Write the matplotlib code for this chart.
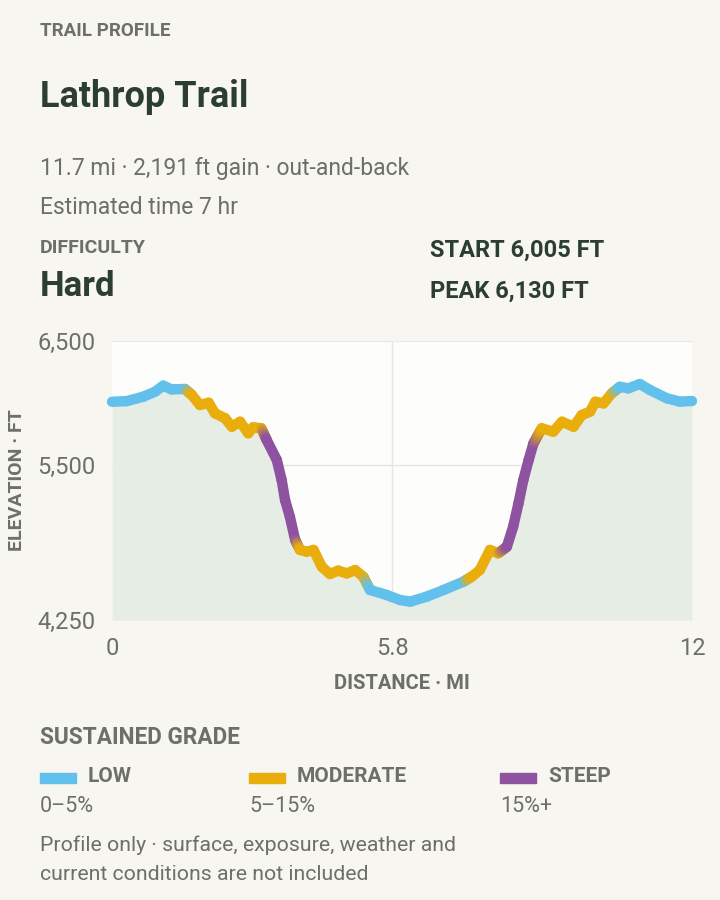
import numpy as np
import matplotlib
matplotlib.use("Agg")
import matplotlib.pyplot as plt
from matplotlib.collections import LineCollection
from matplotlib.colors import to_rgb

plt.rcParams["font.family"] = ["Roboto", "DejaVu Sans"]

# profile (miles, feet, grade class)
distance = [0.00, 0.30, 0.65, 0.89, 1.06, 1.23, 1.51, 1.65, 1.82, 2.00, 2.13, 2.34,
            2.48, 2.65, 2.82, 2.92, 3.09, 3.20, 3.41, 3.51, 3.58, 3.68, 3.79, 3.89,
            4.03, 4.17, 4.34, 4.51, 4.68, 4.86, 5.03, 5.20, 5.34, 5.68, 5.96, 6.17,
            6.51, 6.86, 7.27, 7.44, 7.61, 7.82, 7.99, 8.17, 8.30, 8.41, 8.51, 8.62,
            8.72, 8.89, 9.13, 9.31, 9.55, 9.72, 9.89, 10.00, 10.17, 10.34, 10.51,
            10.68, 10.92, 11.13, 11.48, 11.75, 12.00]
elevation = [6010, 6015, 6051, 6091, 6140, 6110, 6113, 6065, 5984, 6002, 5917, 5877,
             5809, 5849, 5756, 5804, 5796, 5702, 5540, 5379, 5218, 5083, 4895, 4815,
             4801, 4815, 4680, 4621, 4648, 4626, 4653, 4599, 4492, 4452, 4411, 4398,
             4438, 4492, 4559, 4599, 4653, 4815, 4788, 4841, 5003, 5191, 5379, 5540,
             5675, 5796, 5769, 5849, 5809, 5903, 5930, 6010, 5997, 6078, 6131,
             6118, 6153, 6105, 6038, 6011, 6016]
grade = ["low"] * 7 + ["mod"] * 10 + ["steep"] * 6 + ["mod"] * 9 + ["low"] * 7 + \
        ["mod"] * 4 + ["steep"] * 6 + ["mod"] * 9 + ["low"] * 7

grade_colors = {"low": "#62C1EC", "mod": "#E9AE0C", "steep": "#8E52A0"}
legend_keys = ["low", "mod", "steep"]
legend_names = ["LOW", "MODERATE", "STEEP"]
legend_ranges = ["0–5%", "5–15%", "15%+"]

y_ticks = [4250, 5500, 6500]
x_ticks = [0, 5.8, 12]
x_tick_labels = ["0", "5.8", "12"]

BG = "#F7F6F1"
DARK = "#2C3E33"
GRAY = "#6C7068"

fig = plt.figure(figsize=(7.2, 9), dpi=100, facecolor=BG)

# header text
fig.text(40/720, 1 - 31/900, "TRAIL PROFILE", fontsize=13.5, fontweight="bold", color=GRAY, va="center")
fig.text(40/720, 1 - 97/900, "Lathrop Trail", fontsize=26, fontweight="bold", color=DARK, va="center")
fig.text(40/720, 1 - 169/900, "11.7 mi · 2,191 ft gain · out-and-back", fontsize=16.5, color=GRAY, va="center")
fig.text(40/720, 1 - 208/900, "Estimated time 7 hr", fontsize=16.5, color=GRAY, va="center")
fig.text(40/720, 1 - 248/900, "DIFFICULTY", fontsize=14, fontweight="bold", color=GRAY, va="center")
fig.text(40/720, 1 - 287/900, "Hard", fontsize=25, fontweight="bold", color=DARK, va="center")
fig.text(430/720, 1 - 250/900, "START 6,005 FT", fontsize=17, fontweight="bold", color=DARK, va="center")
fig.text(430/720, 1 - 291/900, "PEAK 6,130 FT", fontsize=17, fontweight="bold", color=DARK, va="center")

ax = fig.add_axes([112/720, 1 - 620/900, 580/720, 279/900])
ax.set_facecolor("#FDFDFB")
ax.set_xlim(0, 12)
ax.set_ylim(4250, 6500)

x = np.array(distance)
y = np.array(elevation)
ax.fill_between(x, y, 4250, color="#E5EDE5", lw=0, zorder=1)

ax.axvline(5.8, color="#E6E6E3", lw=1, zorder=0.5)
ax.axhline(5500, color="#E6E6E3", lw=1, zorder=0.5)

# colored line; segments between two grade classes fade from one color to the other
segs, seg_cols = [], []
for i in range(len(x) - 1):
    ca = np.array(to_rgb(grade_colors[grade[i]]))
    cb = np.array(to_rgb(grade_colors[grade[i + 1]]))
    n = 1 if grade[i] == grade[i + 1] else 8
    for j in range(n):
        t0, t1 = j / n, (j + 1) / n
        p0 = (x[i] + (x[i + 1] - x[i]) * t0, y[i] + (y[i + 1] - y[i]) * t0)
        p1 = (x[i] + (x[i + 1] - x[i]) * t1, y[i] + (y[i + 1] - y[i]) * t1)
        segs.append([p0, p1])
        tm = (t0 + t1) / 2
        seg_cols.append(ca * (1 - tm) + cb * tm)
lc = LineCollection(segs, colors=seg_cols, linewidths=7.5, capstyle="round",
                    joinstyle="round", zorder=3, clip_on=False)
ax.add_collection(lc)

ax.set_yticks(y_ticks)
ax.set_yticklabels([f"{v:,}" for v in y_ticks])
ax.set_xticks(x_ticks)
ax.set_xticklabels(x_tick_labels)
ax.tick_params(length=0, labelsize=17, colors=GRAY)
ax.tick_params(axis="y", pad=12)
ax.tick_params(axis="x", pad=12)
for s in ax.spines.values():
    s.set_visible(False)
ax.spines["top"].set_visible(True)
ax.spines["top"].set_color("#E9E9E6")

ax.set_xlabel("DISTANCE · MI", fontsize=14.5, fontweight="bold", color=GRAY, labelpad=10)
ax.set_ylabel("ELEVATION · FT", fontsize=14, fontweight="bold", color=GRAY, labelpad=8)

# legend
fig.text(40/720, 1 - 738/900, "SUSTAINED GRADE", fontsize=16.3, fontweight="bold", color=GRAY, va="center")
sw_x = [40, 249, 500]
for k, name, rng, sx in zip(legend_keys, legend_names, legend_ranges, sw_x):
    fig.patches.append(plt.Rectangle((sx/720, 1 - 783/900), 36/720, 10/900,
                                     transform=fig.transFigure, color=grade_colors[k]))
    fig.text((sx + 48)/720, 1 - 777/900, name, fontsize=15, fontweight="bold", color=GRAY, va="center")
    fig.text(sx/720, 1 - 806/900, rng, fontsize=15.5, color=GRAY, va="center")

fig.text(40/720, 1 - 845/900, "Profile only · surface, exposure, weather and", fontsize=15.3, color=GRAY, va="center")
fig.text(40/720, 1 - 875/900, "current conditions are not included", fontsize=15.3, color=GRAY, va="center")

fig.savefig("out.png", dpi=100, facecolor=BG)
